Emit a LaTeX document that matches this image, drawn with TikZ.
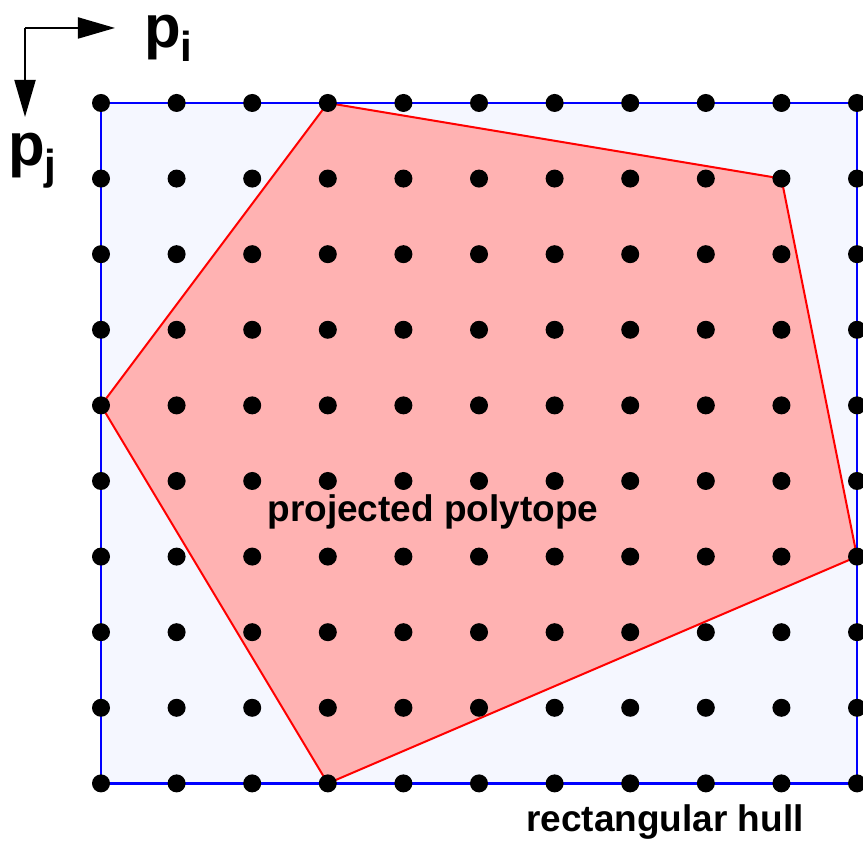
\documentclass[tikz,border=0pt]{standalone}
\usepackage{fontspec}
\setmainfont{Liberation Sans}
\usetikzlibrary{arrows.meta}
\definecolor{hullfill}{RGB}{245,247,255}
\tikzset{
  gridpt/.style={fill=black},
  axislabel/.style={anchor=base west,inner sep=0pt,text height=32pt,font=\bfseries\fontsize{60}{60}\selectfont},
  axisarrow/.style={line width=2pt,-{Triangle[width=21pt,length=37pt]}}
}
\newcommand{\axsub}[1]{\raisebox{-14pt}{\fontsize{42}{42}\selectfont #1}}
\begin{document}
\begin{tikzpicture}[x=75.6pt,y=-75.6pt,font=\bfseries\fontsize{37}{40}\selectfont]
\useasboundingbox (-1.336,-1.362) rectangle (10.079,9.775);
% rectangular hull
\fill[hullfill] (0,0) rectangle (10,9);
% projected polytope
\coordinate (a) at (3,0);\coordinate (b) at (9,1);\coordinate (c) at (10,6);\coordinate (d) at (3,9);\coordinate (e) at (0,4);
\filldraw[fill=red!30,draw=red,line width=2pt] (a) -- (b) -- (c) -- (d) -- (e) -- cycle;
\draw[blue,line width=2.5pt] (0,0) rectangle (10,9);
\foreach \x in {0,...,10}{\foreach \y in {0,...,9}{\fill[gridpt] (\x,\y) circle[radius=9pt];}}
\node[anchor=base,inner sep=0pt] (poly) at (4.39,5.54) {projected polytope};
\node[anchor=base,inner sep=0pt] (hull) at (7.46,9.64) {rectangular hull};
% axes
\coordinate (o) at (-1.005,-0.992);
\coordinate (pi) at (0.185,-0.992);
\coordinate (pj) at (-1.005,0.185);
\draw[axisarrow] (o) -- (pi);
\draw[axisarrow] (o) -- (pj);
\node[axislabel] (li) at (0.57,-0.73) {p\axsub{i}};
\node[axislabel] (lj) at (-1.23,0.83) {p\axsub{j}};
\end{tikzpicture}
\end{document}
